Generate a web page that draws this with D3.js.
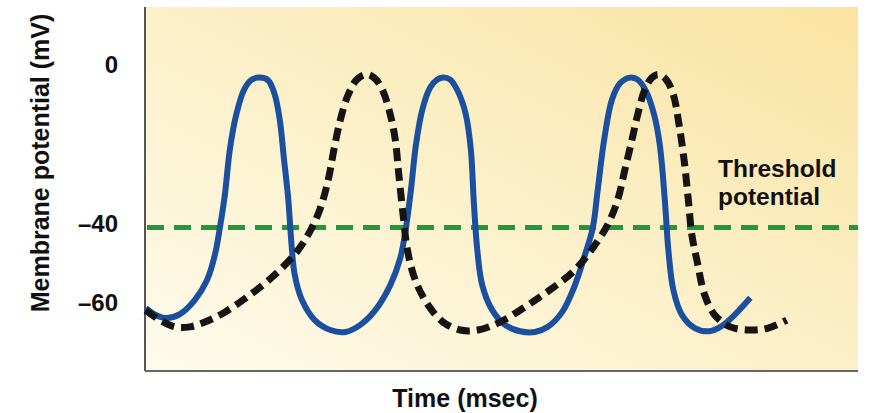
<!DOCTYPE html>
<html><head><meta charset="utf-8">
<script src="https://cdn.jsdelivr.net/npm/d3@7"></script>
<style>html,body{margin:0;padding:0;background:#fff;}svg{display:block;font-family:"Liberation Sans",Arial,sans-serif;}</style>
</head><body>
<svg id="c" width="892" height="413"></svg>
<script>
// time (arbitrary msec units), membrane potential (mV)
const blueT = [0.1,1.5,3.0,4.9,7.0,8.7,9.8,10.5,11.2,11.9,12.8,13.9,15.0,16.1,17.3,18.2,18.9,19.5,20.1,20.5,21.0,22.0,23.8,26.0,28.1,30.2,32.3,34.4,35.8,36.6,37.3,38.0,38.9,40.0,41.0,41.8,42.8,43.9,45.0,45.7,46.1,46.6,47.3,48.7,50.5,52.6,54.7,56.5,58.5,60.3,61.7,62.8,63.5,64.4,65.5,66.6,68.0,69.1,70.3,71.4,72.2,72.9,73.4,74.1,75.3,77.1,79.2,80.9,82.8,84.9];
const blueV = [-61.3,-63.0,-63.8,-62.8,-59.2,-54.2,-47.9,-41.1,-32.8,-21.4,-12.6,-6.3,-3.8,-3.3,-4.0,-7.6,-13.9,-23.9,-34.0,-44.1,-52.9,-59.2,-64.3,-66.8,-67.3,-65.5,-61.8,-55.5,-48.7,-41.1,-31.5,-20.2,-11.3,-5.8,-3.8,-3.3,-3.8,-6.8,-12.6,-21.4,-34.0,-46.6,-55.5,-61.8,-65.5,-67.1,-67.3,-66.0,-62.3,-55.5,-47.9,-41.1,-31.5,-18.9,-8.8,-4.8,-3.3,-3.8,-6.8,-12.6,-20.2,-34.0,-46.6,-56.7,-63.0,-66.3,-67.1,-65.8,-62.8,-58.7];
const blackT = [0.1,2.1,4.2,6.3,8.4,11.2,14.7,18.2,21.3,23.1,24.5,25.7,26.5,27.4,28.5,29.7,31.1,32.3,33.4,34.4,35.1,35.6,36.2,36.8,37.9,39.7,41.8,44.2,46.7,49.8,53.3,56.8,60.3,63.1,64.9,66.3,67.3,68.3,69.1,70.1,71.1,72.0,73.1,74.1,74.9,75.6,76.2,76.7,77.4,78.5,79.9,82.1,84.9,87.4,90.0];
const blackV = [-61.8,-64.3,-66.0,-66.0,-64.8,-62.3,-58.0,-52.9,-47.1,-42.1,-36.6,-29.0,-21.4,-13.9,-7.6,-3.8,-2.5,-3.6,-6.8,-12.6,-18.9,-27.7,-37.8,-46.6,-54.2,-60.5,-64.8,-66.8,-66.8,-64.8,-61.0,-56.7,-51.7,-45.4,-40.3,-34.0,-26.5,-18.9,-12.6,-6.3,-3.3,-2.5,-3.8,-7.6,-15.1,-23.9,-34.0,-42.9,-49.2,-58.0,-63.0,-66.0,-66.8,-66.3,-64.3];
const threshold = -41;
const yTicks = [0, -40, -60];
const yTickLabels = ["0", "\u201340", "\u201360"];
const xLabel = "Time (msec)";
const yLabel = "Membrane potential (mV)";
const thresholdLabel = ["Threshold", "potential"];

const svg = d3.select("#c");
const L = 145, R = 858, T = 7, B = 371;
const x = d3.scaleLinear().domain([0, 100]).range([L, R]);
const y = d3.scaleLinear().domain([0, -60]).range([64.5, 303]);

const defs = svg.append("defs");
const g = defs.append("linearGradient").attr("id","bg").attr("x1","0").attr("y1","1").attr("x2","1").attr("y2","0");
g.append("stop").attr("offset","0").attr("stop-color","#fefbec");
g.append("stop").attr("offset","0.5").attr("stop-color","#fcf0c8");
g.append("stop").attr("offset","1").attr("stop-color","#fae3a2");

svg.append("rect").attr("x",L).attr("y",T).attr("width",R-L).attr("height",B-T).attr("fill","url(#bg)");

// axes lines
svg.append("line").attr("x1",L).attr("x2",L).attr("y1",T).attr("y2",B).attr("stroke","#555").attr("stroke-width",2);
svg.append("line").attr("x1",L).attr("x2",R).attr("y1",B).attr("y2",B).attr("stroke","#666").attr("stroke-width",2);

// y tick labels
svg.selectAll("text.yt").data(yTicks).enter().append("text").attr("class","yt")
  .attr("x",118).attr("y",d=>y(d)).attr("dy","0.35em").attr("text-anchor","end")
  .attr("font-size",24).attr("font-weight","bold").attr("fill","#111")
  .text((d,i)=>yTickLabels[i]);

// axis titles
svg.append("text").attr("x",465).attr("y",407).attr("text-anchor","middle")
  .attr("font-size",25).attr("font-weight","bold").attr("fill","#111").text(xLabel);
svg.append("text").attr("transform","translate(49,163) rotate(-90)").attr("text-anchor","middle")
  .attr("font-size",25).attr("font-weight","bold").attr("fill","#111").text(yLabel);

// threshold
svg.append("line").attr("x1",L+2).attr("x2",R).attr("y1",y(threshold)).attr("y2",y(threshold))
  .attr("stroke","#1f9a3a").attr("stroke-width",5).attr("stroke-dasharray","17,10");
svg.selectAll("text.th").data(thresholdLabel).enter().append("text").attr("class","th")
  .attr("x",718).attr("y",(d,i)=>177+i*28).attr("font-size",24.5).attr("font-weight","bold").attr("fill","#111").text(d=>d);

const line = d3.line().x(d=>x(d[0])).y(d=>y(d[1])).curve(d3.curveCatmullRom.alpha(0.5));
const bluePts = blueT.map((t,i)=>[t, blueV[i]]);
const blackPts = blackT.map((t,i)=>[t, blackV[i]]);

svg.append("path").attr("d",line(bluePts)).attr("fill","none").attr("stroke","#1b4f9f").attr("stroke-width",6).attr("stroke-linejoin","round");
svg.append("path").attr("d",line(blackPts)).attr("fill","none").attr("stroke","#151515").attr("stroke-width",7).attr("stroke-dasharray","13,7");
</script>
</body></html>
